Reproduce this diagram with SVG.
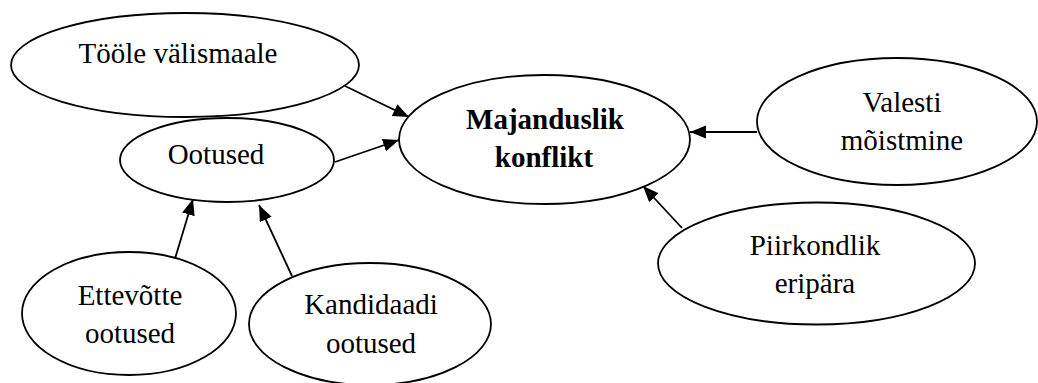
<svg xmlns="http://www.w3.org/2000/svg" width="1038" height="383" viewBox="0 0 1038 383">
  <style>
    .node ellipse { fill: #ffffff; stroke: #000000; stroke-width: 1.8; }
    .node text { font-family: "Liberation Serif", "Times New Roman", serif; font-size: 29px; fill: #000000; text-anchor: middle; }
    .node text.bold { font-weight: bold; }
    .edge { stroke: #000000; stroke-width: 1.8; fill: none; marker-end: url(#arrow); }
  </style>
  <defs>
    <marker id="arrow" markerUnits="userSpaceOnUse" markerWidth="17" markerHeight="14" refX="16" refY="6.5" orient="auto">
      <path d="M0,0 L16,6.5 L0,13 z" fill="#000000"/>
    </marker>
  </defs>
  <rect width="1038" height="383" fill="#ffffff"/>

  <!-- connectors -->
  <g id="connectors">
    <line class="edge" x1="345" y1="86" x2="409" y2="117"/>
    <line class="edge" x1="335" y1="162" x2="399" y2="140"/>
    <line class="edge" x1="757" y1="132" x2="690" y2="132"/>
    <line class="edge" x1="682" y1="228" x2="643" y2="186"/>
    <line class="edge" x1="174" y1="262" x2="193" y2="199"/>
    <line class="edge" x1="292" y1="276" x2="259" y2="205"/>
  </g>

  <g id="toole-valismaale" class="node">
    <ellipse cx="185" cy="65" rx="174" ry="52"/>
    <text x="178" y="63">Tööle välismaale</text>
  </g>

  <g id="ootused" class="node">
    <ellipse cx="227" cy="160" rx="107" ry="42"/>
    <text x="216" y="164">Ootused</text>
  </g>

  <g id="majanduslik-konflikt" class="node">
    <ellipse cx="544.5" cy="139.5" rx="145.5" ry="64.5"/>
    <text class="bold" x="545" y="129">Majanduslik</text>
    <text class="bold" x="544" y="167">konflikt</text>
  </g>

  <g id="valesti-moistmine" class="node">
    <ellipse cx="897" cy="121.5" rx="140" ry="63.5"/>
    <text x="902" y="112">Valesti</text>
    <text x="902" y="150">mõistmine</text>
  </g>

  <g id="piirkondlik-eripara" class="node">
    <ellipse cx="816.5" cy="263.5" rx="158.5" ry="61"/>
    <text x="815" y="255">Piirkondlik</text>
    <text x="815" y="293">eripära</text>
  </g>

  <g id="ettevotte-ootused" class="node">
    <ellipse cx="129" cy="313.5" rx="107" ry="61.5"/>
    <text x="130" y="305">Ettevõtte</text>
    <text x="130" y="343">ootused</text>
  </g>

  <g id="kandidaadi-ootused" class="node">
    <ellipse cx="370" cy="324" rx="121" ry="61"/>
    <text x="371" y="314">Kandidaadi</text>
    <text x="371" y="353">ootused</text>
  </g>
</svg>
